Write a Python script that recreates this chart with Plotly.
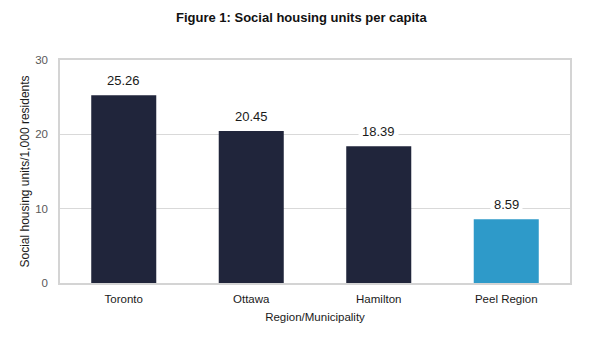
import plotly.graph_objects as go

categories = ["Toronto", "Ottawa", "Hamilton", "Peel Region"]
values = [25.26, 20.45, 18.39, 8.59]
bar_colors = ["#20253b", "#20253b", "#20253b", "#2e9ac9"]
y_ticks = [0, 10, 20, 30]

fig = go.Figure()
fig.add_trace(go.Bar(x=categories, y=values, marker=dict(color=bar_colors, line=dict(width=0)),
                     hoverinfo="skip"))

for c, v in zip(categories, values):
    fig.add_annotation(x=c, y=v, text=f"{v:.2f}", showarrow=False, yanchor="bottom",
                       yshift=3, bgcolor="white", borderpad=3,
                       font=dict(family="Liberation Sans, Arial", size=13, color="#1a1a1a"))

fig.update_layout(
    width=610, height=341,
    margin=dict(l=60, r=40, t=60, b=58),
    paper_bgcolor="white", plot_bgcolor="white",
    bargap=0.49,
    showlegend=False,
    title=dict(text="<b>Figure 1: Social housing units per capita</b>", x=0.494, xanchor="center",
               y=0.95, yanchor="middle",
               font=dict(family="Liberation Sans Narrow, Arial Narrow, Liberation Sans", size=13, color="#111111")),
    font=dict(family="Liberation Sans, Arial", size=11, color="#222222"),
)
fig.update_xaxes(showline=True, mirror=True, linecolor="#d4d4d4", linewidth=2,
                 showgrid=False, ticks="", ticklabelstandoff=4,
                 tickfont=dict(size=11.5, color="#1a1a1a"),
                 title=dict(text="Region/Municipality", standoff=9, font=dict(size=11.5, color="#1a1a1a")))
fig.update_yaxes(range=[0, 30], tickvals=y_ticks, showline=True, mirror=True, linecolor="#d4d4d4",
                 linewidth=1.5, showgrid=True, gridcolor="#d9d9d9", gridwidth=1, zeroline=False,
                 ticks="", ticklabelstandoff=8, tickfont=dict(size=11.5, color="#595959"),
                 title=dict(text="Social housing units/1,000 residents", standoff=3,
                            font=dict(size=12, color="#1a1a1a")))

fig.write_html("out.html")
